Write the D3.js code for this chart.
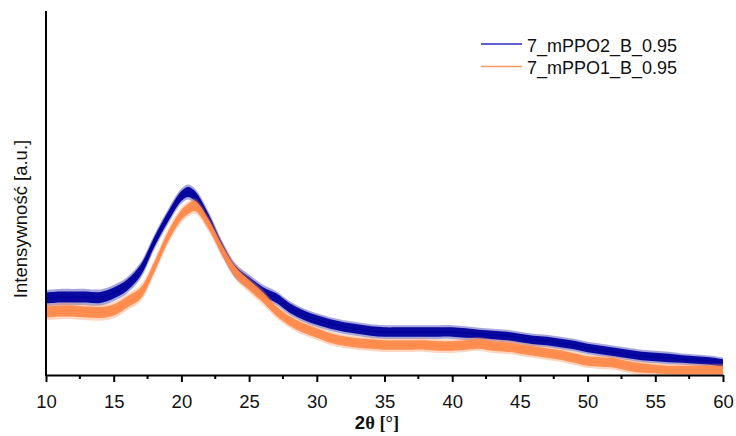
<!DOCTYPE html>
<html><head><meta charset="utf-8">
<script src="https://cdn.jsdelivr.net/npm/d3@7"></script>
<style>body{margin:0;background:#fff}svg{display:block}</style>
</head><body>
<svg id="c" width="736" height="436"></svg>
<script>
const twoTheta = [10,11,12,13,14,15,16,17,18,19,20,20.5,21,22,23,24,25,26,27,28,29,30,31,32,33,34,35,36,37,38,39,40,41,42,43,44,45,46,47,48,49,50,51,52,53,54,55,56,57,58,59,60];
const seriesNames = ["7_mPPO2_B_0.95", "7_mPPO1_B_0.95"];
const blueValues = [770,780,780,780,775,820,900,1050,1330,1580,1790,1830,1790,1560,1270,1040,930,830,770,670,600,550,510,480,460,440,430,430,430,430,430,430,420,410,400,390,370,350,340,320,300,270,250,230,210,190,180,170,160,150,140,120];
const orangeValues = [630,640,640,630,625,650,730,820,1080,1380,1600,1660,1690,1510,1250,1030,900,780,640,540,470,420,370,340,320,310,300,300,300,300,290,290,300,310,290,280,260,240,220,200,170,140,130,120,90,70,60,50,50,50,50,50];
const blueSpread = [65,65,65,65,65,65,65,65,60,60,60,60,60,60,60,60,60,60,55,55,55,55,55,55,55,55,55,55,55,55,55,55,55,50,50,50,50,50,50,50,50,50,50,50,50,50,50,50,45,45,45,45];
const orangeSpread = [65,65,65,65,65,65,65,65,60,60,60,60,60,60,60,60,60,60,55,55,55,55,55,55,55,55,55,55,55,55,55,55,55,55,55,55,55,55,55,55,55,55,55,55,55,55,50,50,50,50,50,50];
const xTicks = [10,15,20,25,30,35,40,45,50,55,60];

const svg = d3.select("#c");
const x = d3.scaleLinear().domain([10, 60]).range([46, 723]);
const y = d3.scaleLinear().domain([0, 3630]).range([375, 12]);
const colors = ["#00009c", "#ff8a4a"];
const legendColors = ["#2a2ac8", "#ff9560"];

const series = [
  {name: seriesNames[0], v: blueValues, s: blueSpread, c: colors[0]},
  {name: seriesNames[1], v: orangeValues, s: orangeSpread, c: colors[1]}
];

function band(k) {
  return d3.area().curve(d3.curveCatmullRom)
    .x((d,i) => x(twoTheta[i]))
    .y0(d => y(d.v - d.s * k)).y1(d => y(d.v + d.s * k));
}
const line = d3.line().curve(d3.curveCatmullRom)
  .x((d,i) => x(twoTheta[i])).y(d => y(d));

series.forEach(sr => {
  const pts = sr.v.map((v,i) => ({v, s: sr.s[i]}));
  svg.append("path").attr("d", band(1.25)(pts)).attr("fill", sr.c).attr("opacity", 0.35);
  svg.append("path").attr("d", band(0.85)(pts)).attr("fill", sr.c).attr("opacity", 0.95);
  svg.append("path").attr("d", line(sr.v)).attr("fill", "none").attr("stroke", sr.c).attr("stroke-width", 1.5);
});

// axes
const xAxis = d3.axisBottom(x).tickValues(xTicks).tickSize(7).tickSizeOuter(0).tickFormat(d3.format("d"));
const gx = svg.append("g").attr("transform", "translate(0,375)").call(xAxis);
gx.select(".domain").attr("stroke-width", 2).attr("stroke", "#000");
gx.selectAll(".tick line").attr("stroke-width", 2);
gx.selectAll(".tick text").attr("font-family", "Liberation Sans, Arial, sans-serif").attr("font-size", 18.5)
  .attr("fill", "#111").attr("y", 33.3).attr("dy", 0);
const minor = d3.range(12.5, 60, 5);
gx.selectAll(".minor").data(minor).enter().append("line")
  .attr("x1", d => x(d)).attr("x2", d => x(d)).attr("y1", 0).attr("y2", 4)
  .attr("stroke", "#000").attr("stroke-width", 2);

svg.append("line").attr("x1", 46).attr("x2", 46).attr("y1", 11).attr("y2", 376).attr("stroke", "#000").attr("stroke-width", 2);

// labels
svg.append("text").attr("transform", "translate(27,219) rotate(-90)").attr("text-anchor", "middle")
  .attr("font-family", "Liberation Sans, Arial, sans-serif").attr("font-size", 18.5).attr("fill", "#111")
  .text("Intensywność [a.u.]");
const xl = svg.append("text").attr("x", 377).attr("y", 428.5).attr("text-anchor", "middle")
  .attr("font-size", 18.5).attr("font-weight", "bold").attr("fill", "#111");
xl.append("tspan").attr("font-family", "Liberation Sans, Arial, sans-serif").text("2");
xl.append("tspan").attr("font-family", "Liberation Serif, Times New Roman, serif").text("θ [°]");

// legend
series.forEach((sr, i) => {
  const ly = 44 + i * 22.5;
  svg.append("line").attr("x1", 481).attr("x2", 522).attr("y1", ly).attr("y2", ly).attr("stroke", legendColors[i]).attr("stroke-width", 1.3);
  svg.append("text").attr("x", 527).attr("y", ly + 7.5).attr("font-family", "Liberation Sans, Arial, sans-serif")
    .attr("font-size", 18).attr("fill", "#111").text(sr.name);
});
</script>
</body></html>
